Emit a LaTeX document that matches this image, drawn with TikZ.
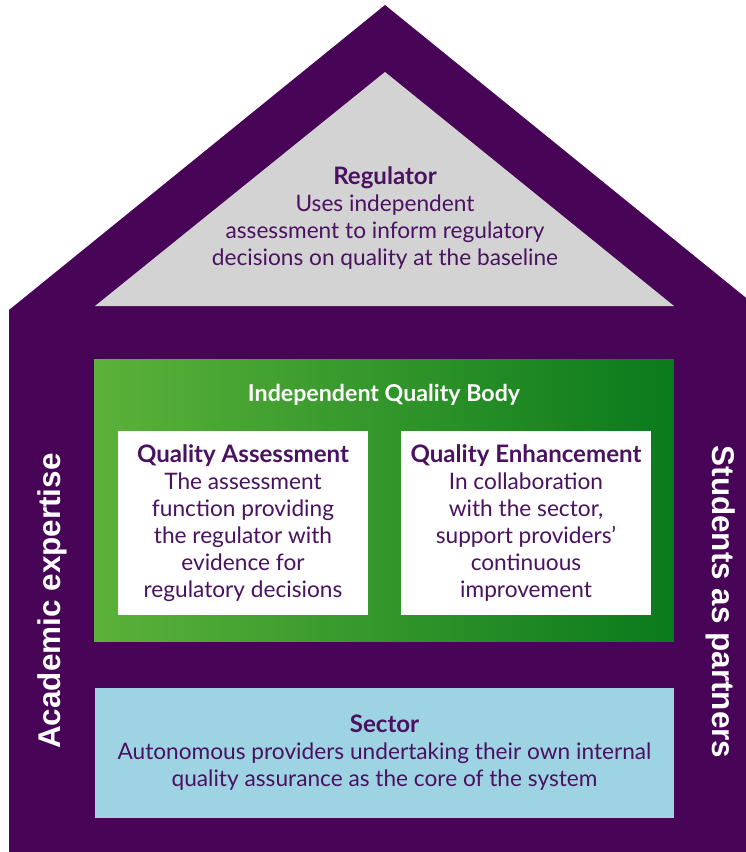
\documentclass[tikz,border=0pt]{standalone}
\usepackage{fontspec}
\setmainfont{Lato}
\newfontfamily\sidefont{Liberation Sans}
\usetikzlibrary{positioning}
\definecolor{housepurple}{RGB}{72,4,86}
\definecolor{roofgrey}{RGB}{211,211,211}
\definecolor{textpurple}{RGB}{74,18,96}
\definecolor{greenlight}{RGB}{92,178,58}
\definecolor{greendark}{RGB}{10,122,28}
\definecolor{sectorblue}{RGB}{158,211,227}
\newcommand{\paneltitle}[1]{{\bfseries\fontsize{13.7}{15.3}\selectfont #1}}
\tikzset{
  panel/.style={text=textpurple, align=center, inner sep=0pt,
    font=\fontsize{12.9}{15.3}\selectfont},
  sidelabel/.style={text=white, font=\sidefont\bfseries\fontsize{17.9}{19}\selectfont},
}
\begin{document}
\begin{tikzpicture}[x=0.02cm,y=-0.02cm]
    \useasboundingbox (0,0) rectangle (746,852);
    %% house
    \begin{scope}
        \clip (0,0) rectangle (746,852);
        \fill[housepurple] (9,310) -- (385,5) -- (761,310) -- (761,852) -- (9,852) -- cycle;
    \end{scope}
    %% roof
    \fill[roofgrey] (95,306) -- (385,72) -- (674,306) -- cycle;
    \node[panel] (regulator) at (385,218) {\paneltitle{Regulator}\\Uses independent\\assessment to inform regulatory\\decisions on quality at the baseline};
    %% independent quality body
    \node[left color=greenlight, middle color=greenlight!94!greendark, right color=greendark,
        minimum width=11.6cm, minimum height=5.66cm, inner sep=0pt] (iqb) at (384,500.5) {};
    \node[text=white, font=\bfseries\fontsize{13.2}{15.3}\selectfont] (iqbtitle) at (384,395) {Independent Quality Body};
    \node[panel, fill=white, minimum width=5cm, minimum height=3.68cm] (assess) at (243,523)
        {\paneltitle{Quality Assessment}\\The assessment\\function providing\\the regulator with\\evidence for\\regulatory decisions};
    \node[panel, fill=white, minimum width=5cm, minimum height=3.68cm] (enhance) at (526,523)
        {\paneltitle{Quality Enhancement}\\In collaboration\\with the sector,\\support providers'\\continuous\\improvement};
    %% sector
    \node[panel, fill=sectorblue, minimum width=11.58cm, minimum height=2.6cm] (sector) at (384.5,753)
        {\paneltitle{Sector}\\Autonomous providers undertaking their own internal\\quality assurance as the core of the system};
    %% sides
    \node[sidelabel, rotate=90] (academic) at (52,601) {Academic expertise};
    \node[sidelabel, rotate=-90] (students) at (721,602) {Students as partners};
\end{tikzpicture}
\end{document}
